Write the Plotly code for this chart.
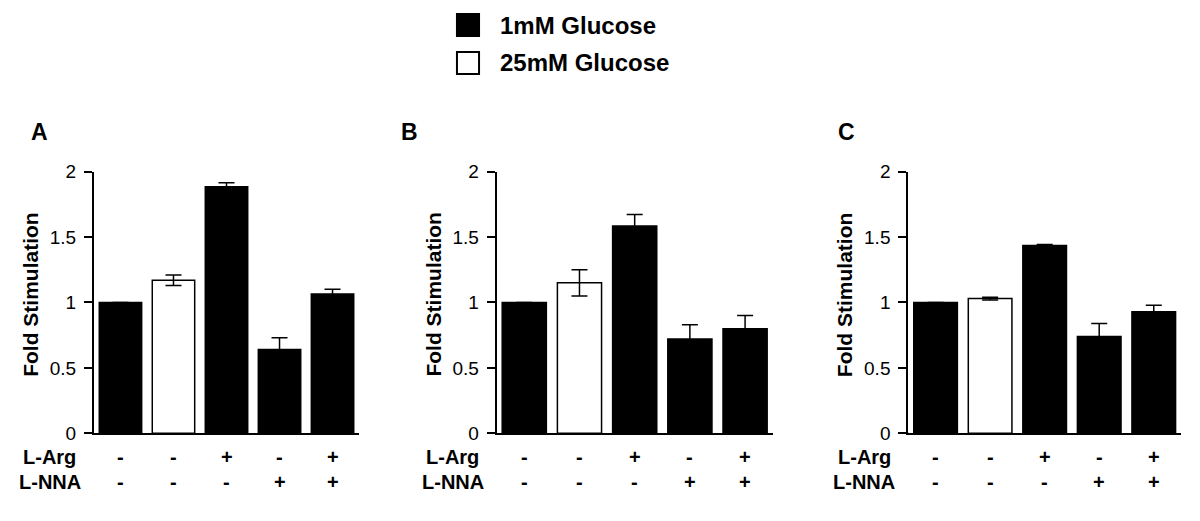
import plotly.graph_objects as go

# bar order in every panel
categories = [0, 1, 2, 3, 4]
l_arg = ["-", "-", "+", "-", "+"]
l_nna = ["-", "-", "-", "+", "+"]
bar_colors = ["black", "white", "black", "black", "black"]

panel_names = ["A", "B", "C"]
# fold stimulation, mean and error per panel
vals_a = [1.0, 1.17, 1.885, 0.64, 1.065]
errs_a = [0.0, 0.04, 0.03, 0.09, 0.036]
vals_b = [1.0, 1.15, 1.585, 0.72, 0.80]
errs_b = [0.0, 0.10, 0.087, 0.11, 0.10]
vals_c = [1.0, 1.03, 1.435, 0.74, 0.93]
errs_c = [0.0, 0.01, 0.008, 0.10, 0.048]

legend_labels = ["1mM Glucose", "25mM Glucose"]
legend_fill = ["black", "white"]

FONT = "Arial, Liberation Sans, sans-serif"

# layout constants (paper coords)
x_domains = [[0.0783, 0.2992], [0.4139, 0.6439], [0.7569, 0.9842]]
y_domain = [0.1683, 0.6705]
letter_x = [0.0325, 0.341, 0.705]

fig = go.Figure()

shapes = []
annotations = []

def note(text, **kw):
  # centred annotation helper
  d = dict(text=text, showarrow=False, xanchor="center", yanchor="middle")
  d.update(kw)
  annotations.append(d)

for i, (vals, errs) in enumerate([(vals_a, errs_a), (vals_b, errs_b), (vals_c, errs_c)]):
  n = "" if i == 0 else str(i + 1)
  fig.add_trace(go.Bar(
    x=categories, y=vals,
    marker=dict(color=bar_colors, line=dict(color="black", width=1.5)),
    error_y=dict(type="data", array=errs, visible=True, color="black",
                 thickness=1.5, width=8),
    width=0.8,
    xaxis="x" + n, yaxis="y" + n,
    showlegend=False, hoverinfo="skip"
  ))

  fig.update_layout({
    "xaxis" + n: dict(domain=x_domains[i], range=[-0.5, 4.5], showline=True,
                      linecolor="black", linewidth=2, showticklabels=False,
                      ticks="", showgrid=False, zeroline=False,
                      anchor="y" + n, fixedrange=True, automargin=False),
    "yaxis" + n: dict(domain=y_domain, range=[0, 2], showline=True,
                      linecolor="black", linewidth=2, ticks="outside",
                      ticklen=8, tickwidth=2, tickcolor="black",
                      tickvals=[0, 0.5, 1, 1.5, 2],
                      ticktext=["0", "0.5", "1", "1.5", "2"],
                      tickfont=dict(family=FONT, size=19, color="black"),
                      ticklabelstandoff=4, automargin=False,
                      showgrid=False, zeroline=False, anchor="x" + n,
                      fixedrange=True),
  })

  # little overhang of the baseline left of the y axis
  shapes.append(dict(type="line", xref="x" + n + " domain", yref="y" + n,
                     x0=-0.03, x1=0, y0=0, y1=0,
                     line=dict(color="black", width=2)))

  # panel letter
  note("<b>" + panel_names[i] + "</b>", xref="paper", yref="paper",
       x=letter_x[i], y=0.747, font=dict(family=FONT, size=23, color="black"))
  # y title
  note("<b>Fold Stimulation</b>", textangle=-90,
       xref="x" + n + " domain", yref="paper", x=0, xshift=-63, y=0.434,
       font=dict(family=FONT, size=21, color="black"))
  # treatment table
  for label, row, yy in [("L-Arg", l_arg, 0.1219), ("L-NNA", l_nna, 0.0749)]:
    note("<b>" + label + "</b>", xref="x" + n + " domain", yref="paper",
         x=0, xshift=-44, y=yy, font=dict(family=FONT, size=20, color="black"))
    for c, s in zip(categories, row):
      note("<b>" + s + "</b>", xref="x" + n, yref="paper", x=c, y=yy,
           font=dict(family=FONT, size=20, color="black"))

# hand-drawn legend at top
legend_y = [(0.9731, 0.9309), (0.9002, 0.858)]
for lab, fill, (y1, y0) in zip(legend_labels, legend_fill, legend_y):
  shapes.append(dict(type="rect", xref="paper", yref="paper",
                     x0=0.3808, x1=0.3992, y0=y0, y1=y1,
                     fillcolor=fill, line=dict(color="black", width=2)))
  note("<b>" + lab + "</b>", xref="paper", yref="paper",
       x=0.415, y=(y0 + y1) / 2, xanchor="left",
       font=dict(family=FONT, size=24, color="black"))

fig.update_layout(
  width=1200, height=521,
  margin=dict(l=0, r=0, t=0, b=0, autoexpand=False),
  paper_bgcolor="white", plot_bgcolor="white",
  bargap=0.2,
  shapes=shapes,
  annotations=annotations,
  showlegend=False
)

# page body margin would push the figure 8px off
fig.write_html("out.html", config={"displayModeBar": False},
               post_script="document.body.style.margin='0px';")
